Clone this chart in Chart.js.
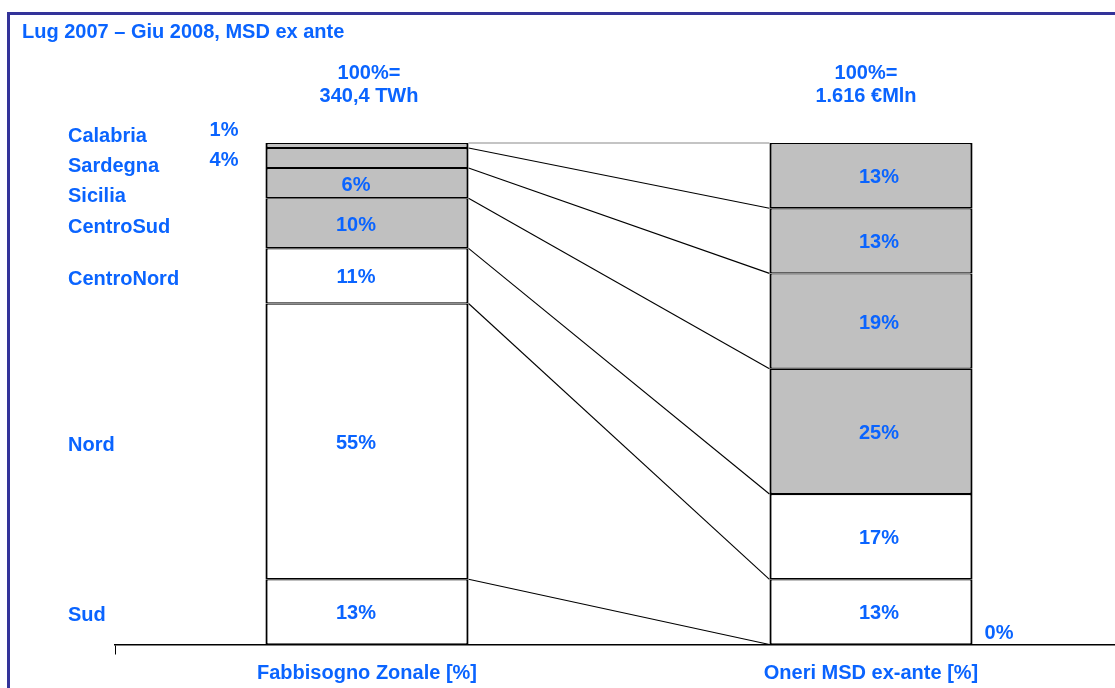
<!DOCTYPE html>
<html lang="it">
<head>
<meta charset="utf-8">
<title>Fabbisogno zonale e oneri MSD ex ante</title>
<script src="https://cdn.jsdelivr.net/npm/chart.js@4.4.1/dist/chart.umd.min.js"></script>
<style>
  html, body { margin: 0; padding: 0; background: #fff; overflow: hidden; }
  #wrap { position: relative; width: 1115px; height: 688px; overflow: hidden; }
  #chart { position: absolute; left: 0; top: 0; }
  /* box around the whole slide, open on the right and bottom */
  #frame {
    position: absolute; left: 7px; top: 12px;
    width: 1300px; height: 900px;
    border: 3px solid #333399;
    pointer-events: none;
  }
</style>
</head>
<body>
<div id="wrap">
  <canvas id="chart" width="1140" height="688"></canvas>
  <div id="frame"></div>
</div>

<script>
// Zones listed bottom-up, as Chart.js stacks them
const zones = ["Sud", "Nord", "CentroNord", "CentroSud", "Sicilia", "Sardegna", "Calabria"];
const fabbisogno = [13, 55, 11, 10, 6, 4, 1];   // % of 340,4 TWh
const oneriMsd = [0, 13, 17, 25, 19, 13, 13];   // % of 1.616 M€
const barNames = ["Fabbisogno Zonale [%]", "Oneri MSD ex-ante [%]"];
const barTotals = [["100%=", "340,4 TWh"], ["100%=", "1.616 €Mln"]];
const greyZones = ["Calabria", "Sardegna", "Sicilia", "CentroSud"];
const chartTitle = "Lug 2007 – Giu 2008, MSD ex ante";

const BLUE = "#0a64ff";
const FONT = "'Liberation Sans', Arial, Helvetica, sans-serif";
const boldFont = (size) => `bold ${size}px ${FONT}`;

// Push apart label positions that are closer than `gap` pixels
function spreadLabels(centers, gap) {
  const pos = centers.slice();
  for (let k = 0; k < 200; k++) {
    for (let i = 0; i < pos.length - 1; i++) {
      const d = pos[i + 1] - pos[i];
      if (d < gap) {
        const s = (gap - d) / 2;
        pos[i] -= s;
        pos[i + 1] += s;
      }
    }
  }
  return pos;
}

const annotations = {
  id: "annotations",
  afterDatasetsDraw(chart) {
    const ctx = chart.ctx;
    const metas = chart.data.datasets.map((_, i) => chart.getDatasetMeta(i));
    const last = metas.length - 1;

    ctx.save();

    // Connector lines from each segment top of the left bar to the right bar
    metas.forEach((meta, i) => {
      const a = meta.data[0];
      const b = meta.data[1];
      ctx.beginPath();
      ctx.lineWidth = 1.1;
      ctx.strokeStyle = i === last ? "#8a8a8a" : "#000";
      ctx.moveTo(a.x + a.width / 2, a.y);
      ctx.lineTo(b.x - b.width / 2, b.y);
      ctx.stroke();
    });

    ctx.fillStyle = BLUE;
    ctx.font = boldFont(20);
    ctx.textBaseline = "middle";

    // Title
    ctx.textAlign = "left";
    ctx.fillText(chartTitle, 22, 32);

    // Zone names on the left, next to the first bar's segments (top-down)
    const order = metas.map((_, i) => last - i);
    const centers = order.map((i) => {
      const el = metas[i].data[0];
      return (el.y + el.base) / 2;
    });
    const namePos = spreadLabels(centers, 30);
    const nameY = {};
    order.forEach((i, k) => {
      nameY[i] = namePos[k] + 4;
      ctx.fillText(zones[i], 68, nameY[i]);
    });

    // Segment percentages
    const insideShift = [-11, 8];
    metas.forEach((meta, i) => {
      meta.data.forEach((el, j) => {
        const value = chart.data.datasets[i].data[j];
        const text = value + "%";
        if (value >= 5) {
          ctx.textAlign = "center";
          ctx.fillText(text, el.x + insideShift[j], (el.y + el.base) / 2 + 2);
        } else if (j === 0) {
          ctx.textAlign = "right";
          ctx.fillText(text, el.x - el.width / 2 - 27, nameY[i] - 6);
        } else {
          ctx.textAlign = "left";
          ctx.fillText(text, el.x + el.width / 2 + 12, el.base - 11);
        }
      });
    });

    // Totals above each bar
    const xScale = chart.scales.x;
    const totalShift = [2, -5];
    ctx.textAlign = "center";
    barTotals.forEach((lines, j) => {
      const x = xScale.getPixelForValue(j) + totalShift[j];
      ctx.fillText(lines[0], x, 73);
      ctx.fillText(lines[1], x, 96);
    });

    ctx.restore();
  },
};

const datasets = zones.map((zone, i) => ({
  label: zone,
  data: [fabbisogno[i], oneriMsd[i]],
  backgroundColor: greyZones.includes(zone) ? "#c0c0c0" : "#ffffff",
  borderColor: "#000000",
  borderWidth: { top: 1.2, bottom: 1.2, left: 2.2, right: 2.2 },
  borderSkipped: false,
  barPercentage: 0.403,
  categoryPercentage: 1,
}));

new Chart(document.getElementById("chart"), {
  type: "bar",
  data: { labels: barNames, datasets },
  plugins: [annotations],
  options: {
    responsive: false,
    animation: false,
    layout: { padding: { left: 115, right: 17, top: 143, bottom: 0 } },
    plugins: {
      legend: { display: false },
      tooltip: { enabled: false },
    },
    scales: {
      x: {
        stacked: true,
        afterFit: (scale) => {
          scale.height = 43.5;
        },
        grid: {
          drawOnChartArea: false,
          tickLength: 10,
          color: (c) => (c.index === 0 ? "#000" : "rgba(0,0,0,0)"),
        },
        border: { color: "#000", width: 1.5 },
        ticks: {
          color: BLUE,
          font: { family: FONT, size: 20, weight: "bold" },
          padding: 7,
          maxRotation: 0,
        },
      },
      y: { stacked: true, display: false, min: 0, max: 100 },
    },
  },
});
</script>
</body>
</html>
